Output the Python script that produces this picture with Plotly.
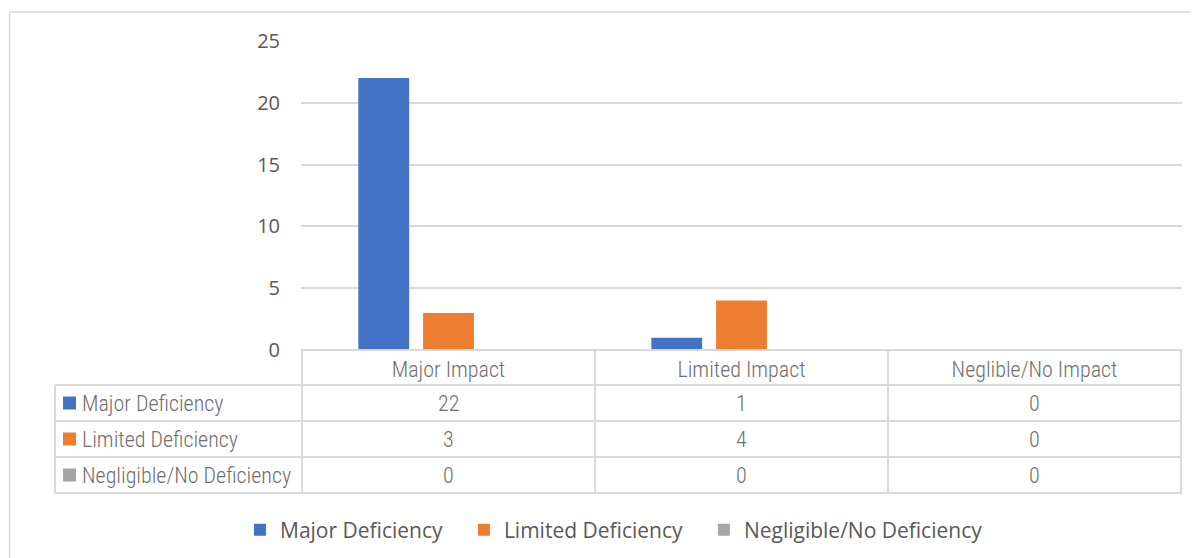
import plotly.graph_objects as go

# ---------------- data ----------------
categories = ["Major Impact", "Limited Impact", "Neglible/No Impact"]
series_names = ["Major Deficiency", "Limited Deficiency", "Negligible/No Deficiency"]
major_deficiency = [22, 1, 0]
limited_deficiency = [3, 4, 0]
negligible_deficiency = [0, 0, 0]
y_ticks = [0, 5, 10, 15, 20, 25]

series_values = [major_deficiency, limited_deficiency, negligible_deficiency]
colors = ["#4472C4", "#ED7D31", "#A5A5A5"]

# ---------------- layout geometry ----------------
# page offset (browser body margin)
OFF = 8
W, H = 1198, 558
# plot area in page pixels
PX0, PX1, PY0, PY1 = 301, 1182, 41, 350
L, T = PX0 - OFF, PY0 - OFF
R, B = W - (PX1 - OFF), H - (PY1 - OFF)
PW = PX1 - PX0
PH = PY1 - PY0


def px_x(px):
    return (px - PX0) / PW


def px_y(py):
    return (PY1 - py) / PH


GRID = "#d9d9d9"
TXT = "#595959"
TABLE_TXT = "#6e6e6e"
NARROW = "Liberation Sans Narrow, Arial Narrow, Roboto Condensed, sans-serif"
SANS = "Open Sans, sans-serif"
TFONT = dict(family=NARROW, size=22, color=TABLE_TXT, weight=300)

fig = go.Figure()
for name, vals, col in zip(series_names, series_values, colors):
    fig.add_trace(go.Bar(
        x=categories, y=vals, name=name + "\u00a0" * 3,
        marker=dict(color=col, line=dict(width=0)),
    ))

shapes = []
annotations = []

# outer chart border (top/left visible)
shapes.append(dict(type="rect", xref="paper", yref="paper",
                   x0=px_x(9.5), x1=px_x(1300), y0=px_y(12), y1=px_y(700),
                   line=dict(color=GRID, width=1.5), layer="below"))

# table geometry
row_tops = [385, 421, 457]
row_h = 36
table_bottom = 493
label_left = 55

shapes.append(dict(type="line", xref="paper", yref="paper",
                   x0=0, x1=1, y0=px_y(PY1), y1=px_y(PY1),
                   line=dict(color=GRID, width=2)))
for yy in row_tops + [table_bottom]:
    shapes.append(dict(type="line", xref="paper", yref="paper",
                       x0=px_x(label_left), x1=1, y0=px_y(yy), y1=px_y(yy),
                       line=dict(color=GRID, width=2)))
for i in range(len(categories) + 1):
    shapes.append(dict(type="line", xref="x", yref="paper",
                       x0=i - 0.5, x1=i - 0.5, y0=px_y(PY1), y1=px_y(table_bottom),
                       line=dict(color=GRID, width=2)))
shapes.append(dict(type="line", xref="paper", yref="paper",
                   x0=px_x(label_left), x1=px_x(label_left),
                   y0=px_y(row_tops[0]), y1=px_y(table_bottom),
                   line=dict(color=GRID, width=2)))

for r, (name, vals, col) in enumerate(zip(series_names, series_values, colors)):
    cy = row_tops[r] + row_h / 2
    shapes.append(dict(type="rect", xref="paper", yref="paper",
                       x0=px_x(63), x1=px_x(76), y0=px_y(cy - 6.5), y1=px_y(cy + 6.5),
                       fillcolor=col, line=dict(width=0)))
    annotations.append(dict(xref="paper", yref="paper", x=px_x(80), y=px_y(cy),
                            xanchor="left", yanchor="middle", showarrow=False,
                            text=name, font=TFONT))
    for c, v in enumerate(vals):
        annotations.append(dict(xref="x", yref="paper", x=categories[c], y=px_y(cy),
                                xanchor="center", yanchor="middle", showarrow=False,
                                text=str(v), font=TFONT))

fig.update_layout(
    width=W, height=H,
    margin=dict(l=L, r=R, t=T, b=B, pad=0),
    paper_bgcolor="white", plot_bgcolor="white",
    barmode="group", bargap=0.337, bargroupgap=0.215,
    showlegend=True,
    legend=dict(orientation="h", x=px_x(240), xanchor="left",
                y=px_y(530), yanchor="middle",
                font=dict(family=SANS, size=21, color=TXT),
                bgcolor="rgba(0,0,0,0)", traceorder="normal"),
    xaxis=dict(showgrid=False, showline=False, zeroline=False, ticks="",
               tickfont=TFONT, ticklabelstandoff=4, fixedrange=True),
    yaxis=dict(range=[0, 25], tickvals=y_ticks, showgrid=True, gridcolor=GRID,
               gridwidth=2, zeroline=False, showline=False, ticks="",
               tickfont=dict(family=SANS, size=20, color=TXT),
               ticklabelstandoff=20, fixedrange=True),
    shapes=shapes, annotations=annotations,
)

fig.write_html("out.html")
